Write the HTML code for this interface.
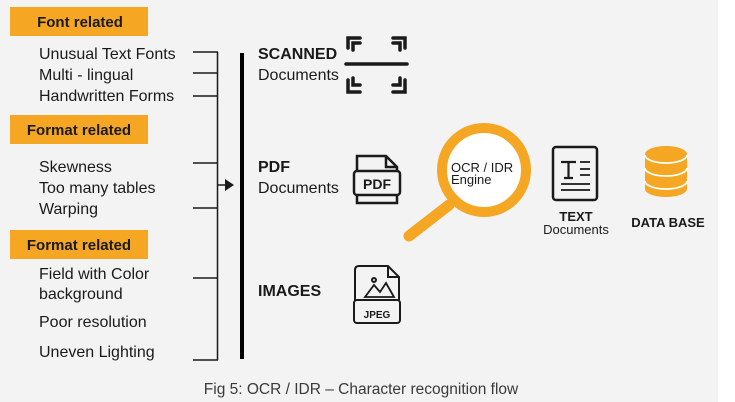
<!DOCTYPE html>
<html><head><meta charset="utf-8"><style>
html,body{margin:0;padding:0;background:#fff;}
svg{display:block;font-family:"Liberation Sans",sans-serif;}
</style></head><body>
<svg width="735" height="402" viewBox="0 0 735 402" xmlns="http://www.w3.org/2000/svg">
<rect x="0" y="0" width="718" height="402" fill="#f3f3f3"/>
<g fill="#f5a623">
<rect x="10" y="7" width="138" height="29"/>
<rect x="10" y="115" width="138" height="29"/>
<rect x="10" y="230" width="138" height="29"/>
</g>
<g font-weight="bold" font-size="15" fill="#1a1a1a" text-anchor="middle">
<text x="80" y="27">Font related</text>
<text x="79" y="135">Format related</text>
<text x="79" y="250">Format related</text>
</g>
<g font-size="16" fill="#1a1a1a">
<text x="39" y="59">Unusual Text Fonts</text>
<text x="39" y="80">Multi - lingual</text>
<text x="39" y="101">Handwritten Forms</text>
<text x="39" y="172">Skewness</text>
<text x="39" y="193">Too many tables</text>
<text x="39" y="214">Warping</text>
<text x="39" y="279">Field with Color</text>
<text x="39" y="299">background</text>
<text x="39" y="327">Poor resolution</text>
<text x="39" y="357">Uneven Lighting</text>
</g>
<g stroke="#1a1a1a" stroke-width="1.5" fill="none">
<line x1="193" y1="52" x2="218" y2="52"/>
<line x1="193" y1="73" x2="218" y2="73"/>
<line x1="193" y1="96" x2="218" y2="96"/>
<line x1="193" y1="163" x2="218" y2="163"/>
<line x1="193" y1="208" x2="218" y2="208"/>
<line x1="193" y1="278" x2="218" y2="278"/>
<line x1="193" y1="360" x2="218" y2="360"/>
<line x1="217.5" y1="52" x2="217.5" y2="360"/>
<line x1="217" y1="185" x2="226" y2="185"/>
</g>
<polygon points="225,179 234,185 225,191" fill="#1a1a1a"/>
<rect x="240" y="53" width="4" height="306" fill="#000"/>
<g font-size="16" fill="#1a1a1a">
<text x="258" y="59" font-weight="bold">SCANNED</text>
<text x="258" y="80">Documents</text>
<text x="258" y="172" font-weight="bold">PDF</text>
<text x="258" y="193">Documents</text>
<text x="258" y="296" font-weight="bold">IMAGES</text>
</g>
<!-- scan icon -->
<g stroke="#1a1a1a" stroke-width="3.5" fill="none" stroke-linecap="round">
<path d="M348,48 V38 H360"/><path d="M353,50 V43 H360"/>
<path d="M405,48 V38 H393"/><path d="M400,50 V43 H393"/>
<path d="M348,80 V92 H360"/><path d="M353,78 V85 H360"/>
<path d="M405,80 V92 H393"/><path d="M400,78 V85 H393"/>
<line x1="346" y1="64" x2="407" y2="64"/>
</g>
<!-- pdf icon -->
<g stroke="#1a1a1a" stroke-width="2.5" fill="none">
<path d="M357,170 V156 H386 L397,167 V172"/>
<path d="M386,156 V167 H397"/>
<rect x="354" y="171" width="46" height="24" rx="3"/>
<path d="M357,195 V203 H397 V195"/>
</g>
<text x="377" y="189" font-size="14" font-weight="bold" text-anchor="middle" fill="#1a1a1a">PDF</text>
<!-- jpeg icon -->
<g stroke="#1a1a1a" stroke-width="2" fill="none">
<path d="M355,300 V270 Q355,266 359,266 H388 L399,277 V300"/>
<path d="M388,266 V277 H399"/>
<rect x="354" y="300" width="46" height="23" rx="3"/>
<circle cx="374" cy="280" r="2"/>
<path d="M365,297 L374,285 L380,292 L386,283 L394,297 Z" stroke-width="1.8"/>
</g>
<text x="377" y="318" font-size="10" font-weight="bold" text-anchor="middle" fill="#1a1a1a">JPEG</text>
<!-- magnifier -->
<line x1="409" y1="236" x2="449" y2="205" stroke="#f5a623" stroke-width="11" stroke-linecap="round"/>
<circle cx="484" cy="170" r="42" fill="#fff" stroke="#f5a623" stroke-width="10"/>
<text x="451" y="172" font-size="13" fill="#1a1a1a">OCR / IDR</text>
<text x="451" y="184" font-size="13" fill="#1a1a1a">Engine</text>
<!-- text doc -->
<g stroke="#1a1a1a" fill="none">
<rect x="553" y="147" width="44" height="53" rx="3" stroke-width="2.5"/>
<path d="M561,162 H576 M568.5,162 V178 M564,178 H573" stroke-width="2.2"/>
<path d="M580,162 H590 M580,169 H590 M580,175 H590 M561,184 H590 M561,190 H590" stroke-width="1.8"/>
</g>
<text x="576" y="221" font-size="13" font-weight="bold" text-anchor="middle" fill="#1a1a1a">TEXT</text>
<text x="576" y="234" font-size="13" text-anchor="middle" fill="#1a1a1a">Documents</text>
<!-- database -->
<g fill="#f5a623">
<path d="M645,155 V189 A21,8 0 0 0 687,189 V155 Z"/>
<ellipse cx="666" cy="154" rx="21" ry="8"/>
</g>
<g stroke="#fff" stroke-width="1.8" fill="none">
<path d="M645,155 A21,8 0 0 0 687,155"/>
<path d="M645,168 A21,8 0 0 0 687,168"/>
<path d="M645,181 A21,8 0 0 0 687,181"/>
</g>
<text x="668" y="227" font-size="13" font-weight="bold" text-anchor="middle" fill="#1a1a1a">DATA BASE</text>
<text x="361" y="394" font-size="15.5" text-anchor="middle" fill="#3a3a3a">Fig 5: OCR / IDR – Character recognition flow</text>
</svg>
</body></html>
